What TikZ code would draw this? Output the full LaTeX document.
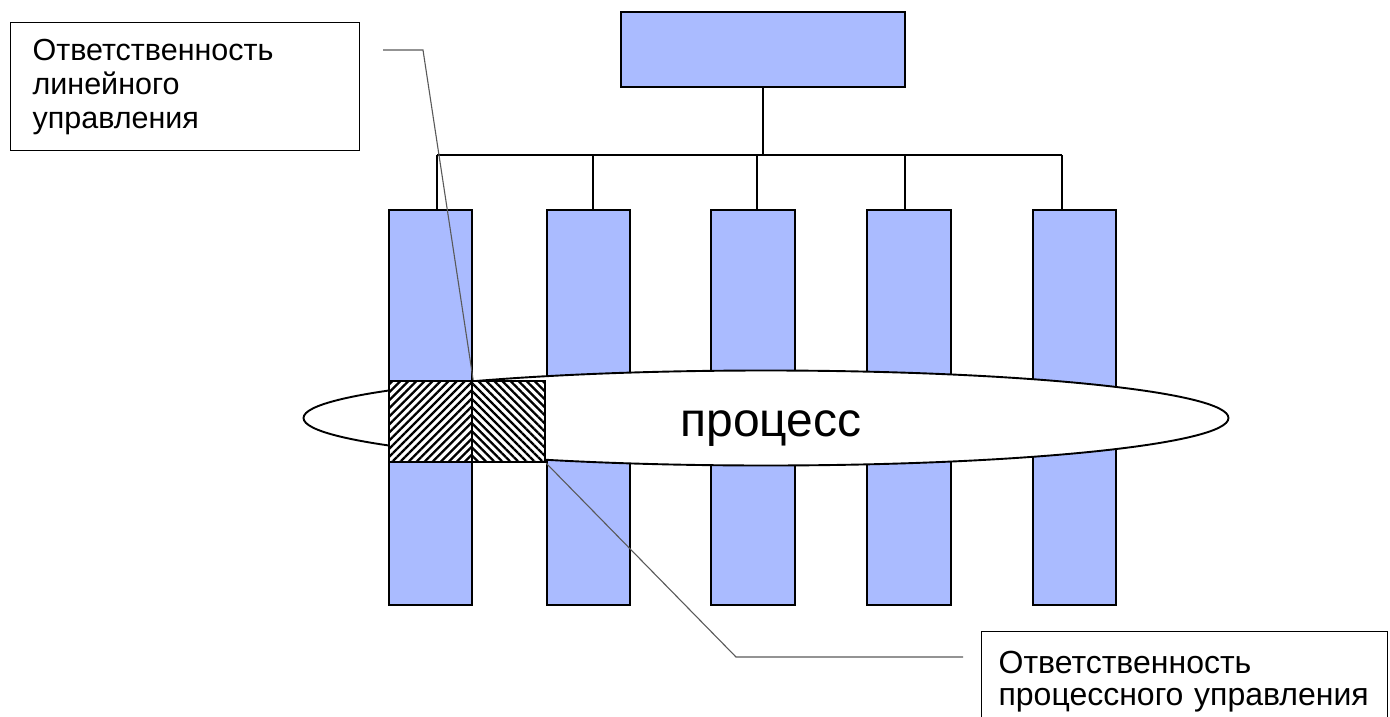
\documentclass[tikz,border=0pt]{standalone}
\usepackage{fontspec}
\setmainfont{Liberation Sans}
\usetikzlibrary{shapes.geometric,patterns.meta}
\definecolor{colblue}{RGB}{170,187,255}
\tikzset{
  blk/.style={draw, line width=1.9pt, fill=colblue, inner sep=0pt},
  link/.style={line width=1.9pt},
  lead/.style={line width=1.1pt, draw=black!65},
  lbl/.style={draw, line width=1.2pt, fill=white, align=left, anchor=north west,
    font=\fontsize{30.5}{34}\selectfont},
  hatch/.style={draw, line width=1.2pt, inner sep=0pt, minimum height=81pt, preaction={fill=white}},
}
\begin{document}
\begin{tikzpicture}[x=1pt,y=-1pt]
\useasboundingbox (0,0) rectangle (1390,717);
% boxes
\node[blk, minimum width=284pt, minimum height=75pt] (top) at (763,49.5){};
\node[blk, minimum width=83pt, minimum height=395pt] (c1) at (430.5,407.5){};
\node[blk, minimum width=83pt, minimum height=395pt] (c2) at (588.5,407.5){};
\node[blk, minimum width=84pt, minimum height=395pt] (c3) at (753,407.5){};
\node[blk, minimum width=84pt, minimum height=395pt] (c4) at (909,407.5){};
\node[blk, minimum width=83pt, minimum height=395pt] (c5) at (1074.5,407.5){};
% process
\node[draw, ellipse, line width=1.9pt, fill=white, minimum width=925pt, minimum height=95pt,
  inner sep=0pt] (proc) at (766,418){};
\node[font=\fontsize{48}{48}\selectfont] (proct) at (771,429){процесс};
\node[hatch, minimum width=83pt, pattern={Lines[angle=45,distance=5.7pt,line width=2.3pt]}] (hl) at (430.5,421.5){};
\node[hatch, minimum width=73pt, pattern={Lines[angle=-45,distance=5.7pt,line width=2.3pt]}] (hr) at (508.5,421.5){};
% tree
\coordinate (bus) at (763,155);
\coordinate (b1) at (437,155);
\coordinate (b2) at (593,155);
\coordinate (b3) at (757,155);
\coordinate (b4) at (905,155);
\coordinate (b5) at (1062,155);
\draw[link] (top.south) -- (bus);
\draw[link] (b1) -- (b5);
\draw[link] (b1) -- (b1 |- c1.north);
\draw[link] (b2) -- (b2 |- c2.north);
\draw[link] (b3) -- (b3 |- c3.north);
\draw[link] (b4) -- (b4 |- c4.north);
\draw[link] (b5) -- (b5 |- c5.north);
% labels
\node[lbl, text width=305pt, minimum height=128pt, inner xsep=22pt] (lin) at (10,22)
  {Ответственность\\линейного\\управления};
\node[lbl, text width=372pt, inner xsep=17pt, inner ysep=20pt,
  font=\fontsize{32}{32}\selectfont] (prc) at (981,631)
  {Ответственность\\процессного управления};
\coordinate (l1a) at (383,50);
\coordinate (l1b) at (423,50);
\coordinate (l2a) at (736,657);
\coordinate (l2b) at (963,657);
\draw[lead] (l1a) -- (l1b) -- (hl.north east);
\draw[lead] (hr.south east) -- (l2a) -- (l2b);
\end{tikzpicture}
\end{document}
